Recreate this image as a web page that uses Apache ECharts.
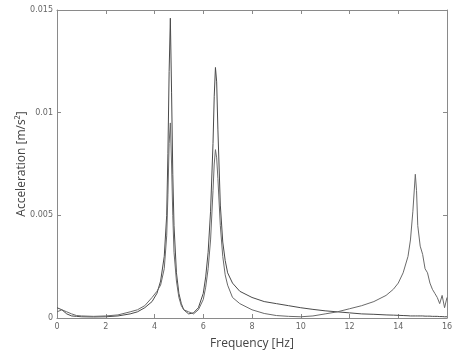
<!DOCTYPE html>
<html>
<head>
<meta charset="utf-8">
<script src="https://cdn.jsdelivr.net/npm/echarts@6/dist/echarts.min.js"></script>
<style>
  html, body { margin: 0; padding: 0; background: #fff; }
  #chart { width: 462px; height: 355px; }
</style>
</head>
<body>
<div id="chart"></div>
<script>
// Frequency points (Hz), denser around the resonance peaks
const freq = [0, 0.2, 0.4, 0.6, 0.8, 1, 1.5, 2, 2.5, 3, 3.3, 3.6, 3.9, 4.1, 4.25, 4.4, 4.5, 4.55, 4.6, 4.65,
  4.7, 4.75, 4.8, 4.9, 5.0, 5.1, 5.2, 5.4, 5.6, 5.8, 6.0, 6.1, 6.2, 6.3, 6.4, 6.45, 6.5, 6.55, 6.6, 6.7,
  6.8, 6.9, 7.0, 7.2, 7.5, 8, 8.5, 9, 9.5, 10, 10.5, 11, 11.5, 12, 12.5, 13, 13.5, 13.8, 14, 14.2,
  14.4, 14.5, 14.6, 14.7, 14.75, 14.8, 14.9, 15.0, 15.1, 15.2, 15.3, 15.4, 15.5, 15.6, 15.7, 15.8, 15.9, 16];

// Response 1: tall peaks at ~4.65 and ~6.5 Hz
const accelA = [0.0005, 0.0004, 0.0002, 0.0001, 0.00008, 0.00006, 0.00005, 0.00006, 0.0001, 0.0002, 0.0003, 0.0005, 0.0008, 0.0012, 0.0018, 0.003, 0.005, 0.008, 0.012, 0.0146,
  0.011, 0.007, 0.0045, 0.0022, 0.0012, 0.0007, 0.0004, 0.0002, 0.00025, 0.0005, 0.0012, 0.002, 0.0032, 0.0052, 0.0085, 0.0108, 0.0122, 0.0115, 0.0092, 0.0055,
  0.0037, 0.0028, 0.0022, 0.0017, 0.0013, 0.001, 0.0008, 0.0007, 0.0006, 0.0005, 0.00042, 0.00035, 0.0003, 0.00025, 0.0002, 0.00018, 0.00015, 0.00014, 0.00013, 0.00012,
  0.00011, 0.0001, 0.0001, 0.0001, 0.0001, 0.0001, 0.0001, 0.0001, 0.00009, 0.00009, 0.00009, 0.00008, 0.00008, 0.00008, 0.00007, 0.00007, 0.00006, 0.00006];

// Response 2: lower first two peaks plus a third peak at ~14.7 Hz
const accelB = [0.0003, 0.0004, 0.0003, 0.0002, 0.00012, 0.0001, 0.00008, 0.0001, 0.00015, 0.0003, 0.0004, 0.0006, 0.001, 0.0013, 0.0016, 0.0024, 0.004, 0.006, 0.0085, 0.0095,
  0.0075, 0.005, 0.0032, 0.0018, 0.001, 0.0006, 0.0004, 0.0003, 0.0002, 0.0004, 0.0009, 0.0015, 0.0024, 0.0038, 0.0062, 0.0075, 0.0082, 0.0078, 0.0068, 0.0045,
  0.003, 0.0021, 0.0016, 0.001, 0.0007, 0.0004, 0.00022, 0.00012, 0.00008, 0.00006, 0.0001, 0.0002, 0.0003, 0.00045, 0.0006, 0.0008, 0.0011, 0.0014, 0.0017, 0.0022,
  0.003, 0.0038, 0.0052, 0.007, 0.0062, 0.0045, 0.0035, 0.0031, 0.0024, 0.0022, 0.0017, 0.0014, 0.0012, 0.001, 0.0007, 0.0011, 0.0005, 0.001];

const chart = echarts.init(document.getElementById('chart'));

const pairs = (ys) => freq.map((f, i) => [f, ys[i]]);

const frameLine = { show: true, onZero: false, lineStyle: { color: '#8a8a8a', width: 1 } };
const tickIn = { show: true, inside: true, length: 4, lineStyle: { color: '#8a8a8a' } };
const tickLabel = { color: '#666', fontSize: 8, fontFamily: 'DejaVu Sans' };

const option = {
  backgroundColor: '#fff',
  animation: false,
  grid: { left: 57, right: 15, top: 10, bottom: 37 },
  xAxis: [
    {
      type: 'value', min: 0, max: 16, interval: 2,
      name: 'Frequency [Hz]', nameLocation: 'middle', nameGap: 20, nameMoveOverlap: false,
      nameTextStyle: { color: '#444', fontSize: 12, fontFamily: 'Open Sans' },
      axisLine: frameLine, axisTick: tickIn,
      axisLabel: Object.assign({ margin: 5 }, tickLabel),
      splitLine: { show: false }
    },
    {
      type: 'value', position: 'top', min: 0, max: 16, interval: 2,
      axisLine: frameLine, axisTick: tickIn, axisLabel: { show: false },
      splitLine: { show: false }
    }
  ],
  yAxis: [
    {
      type: 'value', min: 0, max: 0.015, interval: 0.005,
      name: 'Acceleration [m/s\u00b2]', nameLocation: 'middle', nameGap: 29, nameMoveOverlap: false,
      nameTextStyle: { color: '#444', fontSize: 12, fontFamily: 'Open Sans' },
      axisLine: frameLine, axisTick: tickIn,
      axisLabel: Object.assign({ margin: 4, formatter: (v) => (v === 0 ? '0' : String(+v.toFixed(3))) }, tickLabel),
      splitLine: { show: false }
    },
    {
      type: 'value', position: 'right', min: 0, max: 0.015, interval: 0.005,
      axisLine: frameLine, axisTick: tickIn, axisLabel: { show: false },
      splitLine: { show: false }
    }
  ],
  series: [
    {
      type: 'line', data: pairs(accelA), showSymbol: false,
      lineStyle: { color: '#4a4a4a', width: 1 }
    },
    {
      type: 'line', data: pairs(accelB), showSymbol: false,
      lineStyle: { color: '#6a6a6a', width: 1 }
    }
  ]
};

chart.setOption(option);
</script>
</body>
</html>
